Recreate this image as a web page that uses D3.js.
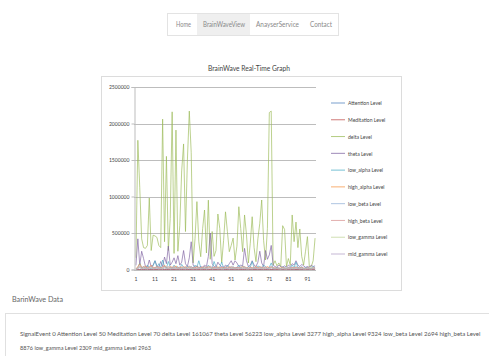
<!DOCTYPE html>
<html>
<head>
<meta charset="utf-8">
<script src="https://cdn.jsdelivr.net/npm/d3@7"></script>
<style>
  html, body { margin: 0; padding: 0; background: #fff; overflow: hidden; }
  svg { display: block; }
</style>
</head>
<body>
<svg id="page" width="489" height="356"></svg>
<script>
// ---- data -------------------------------------------------------------
const navItems = ["Home", "BrainWaveView", "AnayserService", "Contact"];
const seriesNames = ["Attention Level", "Meditation Level", "delta Level", "theta Level",
  "low_alpha Level", "high_alpha Level", "low_beta Level", "high_beta Level",
  "low_gamma Level", "mid_gamma Level"];
const seriesColors = ["#4F81BD", "#C0504D", "#9BBB59", "#8064A2", "#4BACC6",
  "#F79646", "#95B3D7", "#D99694", "#C3D69B", "#B3A2C7"];
const yTicks = [0, 500000, 1000000, 1500000, 2000000, 2500000];
const xTickLabels = [1, 11, 21, 31, 41, 51, 61, 71, 81, 91];

const attention = [50,54,61,48,40,43,51,57,63,66,60,53,47,44,38,41,50,56,61,64,70,66,57,51,48,44,40,47,53,57,
  63,69,74,67,60,54,50,43,38,41,48,56,61,57,51,44,40,37,43,50,57,63,60,54,48,51,56,61,66,70,
  64,57,53,47,43,48,54,60,63,57,50,44,38,35,41,47,53,56,61,66,60,54,48,44,50,57,63,67,61,54,
  48,43,47,53,58];
const meditation = [70,66,61,57,53,48,44,51,57,63,67,70,74,69,61,56,50,47,43,48,54,60,64,69,74,78,70,63,57,50,
  47,43,40,44,51,57,61,66,70,64,57,53,48,54,60,63,69,74,67,61,56,50,47,43,48,53,57,61,66,63,
  57,51,47,43,40,44,50,56,60,66,70,74,67,61,54,50,47,53,57,61,64,60,54,50,47,51,56,60,64,69,
  74,70,63,57,53];
const delta = [161067,1770000,1120000,420000,300000,290000,330000,980000,260000,470000,
  460000,440000,330000,300000,2060000,380000,1550000,260000,700000,2160000,
  220000,1910000,250000,600000,1350000,1720000,520000,1500000,2170000,1600000,
  90000,420000,930000,380000,175000,560000,815000,226000,950000,140000,
  520000,180000,260000,760000,560000,90000,400000,790000,520000,244000,
  330000,430000,130000,320000,860000,560000,244000,747000,480000,89000,
  360000,723000,300000,107000,420000,633000,952000,400000,130000,560000,
  2150000,2170000,60000,120000,50000,90000,40000,600000,550000,40000,
  150000,60000,747000,381000,650000,300000,555000,180000,60000,250000,
  450000,40000,38000,120000,430000];
const theta = [56223,420000,60000,250000,150000,40000,30000,130000,40000,60000,
  120000,50000,30000,110000,40000,170000,80000,320000,60000,100000,
  160000,80000,190000,60000,100000,260000,80000,40000,160000,380000,
  60000,30000,50000,20000,40000,30000,60000,40000,180000,500000,
  80000,40000,30000,100000,60000,40000,30000,60000,40000,80000,
  120000,60000,120000,90000,40000,60000,50000,290000,120000,40000,
  60000,120000,60000,40000,100000,250000,90000,40000,260000,140000,
  200000,330000,60000,40000,30000,60000,40000,30000,50000,30000,
  60000,40000,80000,60000,120000,60000,40000,70000,50000,30000,
  40000,30000,60000,40000,50000];
const lowAlpha = [3277,30000,90000,20000,40000,15000,60000,25000,10000,50000,
  120000,30000,80000,20000,130000,40000,20000,110000,30000,15000,
  60000,25000,40000,10000,70000,30000,20000,50000,15000,40000,
  20000,60000,30000,120000,25000,15000,40000,20000,60000,30000,
  15000,110000,40000,20000,30000,100000,25000,15000,60000,30000,
  20000,40000,15000,30000,60000,20000,50000,25000,15000,40000,
  30000,110000,20000,15000,50000,30000,20000,60000,40000,15000,
  30000,90000,20000,15000,30000,20000,10000,40000,25000,15000,
  30000,20000,60000,25000,100000,30000,20000,40000,15000,25000,
  30000,15000,20000,40000,25000];
const highAlpha = [9324,40000,80000,30000,20000,50000,15000,30000,60000,20000,
  25000,40000,15000,30000,20000,60000,25000,15000,40000,30000,
  20000,50000,15000,25000,30000,20000,40000,15000,30000,20000,
  15000,25000,40000,15000,20000,30000,15000,25000,40000,20000,
  15000,30000,20000,40000,15000,25000,20000,30000,15000,40000,
  20000,25000,15000,30000,20000,15000,40000,20000,25000,15000,
  30000,20000,15000,40000,25000,20000,30000,15000,20000,40000,
  25000,30000,15000,20000,10000,15000,20000,30000,15000,10000,
  20000,15000,25000,20000,30000,15000,20000,25000,15000,10000,
  20000,15000,10000,20000,15000];
const lowBeta = [2694,20000,40000,15000,30000,20000,10000,25000,40000,15000,
  20000,30000,10000,25000,15000,40000,20000,30000,15000,20000,
  30000,15000,25000,20000,10000,30000,15000,20000,40000,25000,
  15000,20000,10000,30000,15000,20000,25000,10000,30000,40000,
  15000,20000,30000,15000,25000,20000,10000,30000,15000,20000,
  40000,15000,25000,20000,30000,15000,20000,40000,15000,20000,
  25000,15000,30000,20000,15000,40000,20000,25000,30000,15000,
  20000,40000,15000,10000,20000,15000,10000,25000,15000,10000,
  20000,15000,25000,15000,40000,20000,15000,25000,10000,15000,
  20000,10000,15000,20000,15000];
const highBeta = [8876,30000,50000,25000,40000,30000,20000,35000,50000,30000,
  25000,40000,30000,20000,35000,45000,30000,40000,25000,30000,
  40000,30000,20000,35000,30000,40000,25000,30000,45000,35000,
  25000,30000,20000,35000,25000,30000,40000,25000,30000,45000,
  30000,25000,35000,20000,30000,25000,20000,35000,30000,25000,
  40000,30000,20000,30000,25000,35000,30000,40000,25000,20000,
  30000,25000,35000,30000,20000,40000,30000,25000,35000,30000,
  25000,40000,30000,20000,25000,20000,15000,30000,20000,15000,
  25000,20000,30000,20000,35000,25000,20000,30000,20000,15000,
  25000,20000,15000,25000,20000];
const lowGamma = [2309,15000,30000,10000,20000,15000,10000,20000,25000,10000,
  15000,20000,10000,15000,10000,25000,15000,20000,10000,15000,
  20000,10000,15000,10000,20000,15000,10000,20000,25000,15000,
  10000,15000,10000,20000,10000,15000,20000,10000,15000,25000,
  10000,15000,20000,10000,15000,10000,10000,20000,15000,10000,
  20000,15000,10000,15000,10000,20000,15000,20000,10000,10000,
  15000,10000,20000,15000,10000,20000,15000,10000,20000,15000,
  10000,25000,15000,10000,15000,10000,8000,15000,10000,8000,
  15000,10000,15000,10000,20000,15000,10000,15000,10000,8000,
  15000,10000,8000,15000,10000];
const midGamma = [2963,12000,25000,8000,15000,10000,8000,15000,20000,8000,
  12000,15000,8000,12000,8000,20000,12000,15000,8000,12000,
  15000,8000,12000,8000,15000,12000,8000,15000,20000,12000,
  8000,12000,8000,15000,8000,12000,15000,8000,12000,20000,
  8000,12000,15000,8000,12000,8000,8000,15000,12000,8000,
  15000,12000,8000,12000,8000,15000,12000,15000,8000,8000,
  12000,8000,15000,12000,8000,15000,12000,8000,15000,12000,
  8000,20000,12000,8000,12000,8000,6000,12000,8000,6000,
  12000,8000,12000,8000,15000,12000,8000,12000,8000,6000,
  12000,8000,6000,12000,8000];
const seriesValues = [attention, meditation, delta, theta, lowAlpha, highAlpha,
  lowBeta, highBeta, lowGamma, midGamma];

const dataLines = [
  "SignalEvent 0 Attention Level 50 Meditation Level 70 delta Level 161067 theta Level 56223 low_alpha Level 3277 high_alpha Level 9324 low_beta Level 2694 high_beta Level",
  "8876 low_gamma Level 2309 mid_gamma Level 2963"
];

// ---- page -------------------------------------------------------------
const svg = d3.select("#page");
const uiFont = "Lato, 'Open Sans', sans-serif";
const chartFont = "Lato, 'Open Sans', sans-serif";

// squeeze a text to a narrower set width (condensed look of the chart labels)
function condense(sel, factor) {
  sel.each(function () {
    const w = this.getComputedTextLength();
    d3.select(this).attr("textLength", w * factor).attr("lengthAdjust", "spacingAndGlyphs");
  });
}
function fitWidth(sel, width) {
  sel.attr("textLength", width).attr("lengthAdjust", "spacingAndGlyphs");
}

// navigation bar
const nav = svg.append("g");
nav.append("rect").attr("x", 167.5).attr("y", 13.5).attr("width", 171).attr("height", 22)
  .attr("fill", "#fff").attr("stroke", "#e3e3e3");
nav.append("rect").attr("x", 197).attr("y", 14).attr("width", 53).attr("height", 21)
  .attr("fill", "#efefef");
const navX = [176, 203, 256, 310];
const navW = [15, 42, 43, 22];
nav.selectAll("text").data(navItems).join("text")
  .attr("x", (d, i) => navX[i]).attr("y", 27)
  .attr("font-family", uiFont).attr("font-weight", 400)
  .attr("font-size", 7.2).attr("fill", "#8a8a8a")
  .attr("textLength", (d, i) => navW[i]).attr("lengthAdjust", "spacingAndGlyphs")
  .text(d => d);

// chart frame and title
svg.append("rect").attr("x", 101.5).attr("y", 76.5).attr("width", 300).attr("height", 214)
  .attr("fill", "#fff").attr("stroke", "#dcdcdc");
svg.append("text").attr("x", 208).attr("y", 71)
  .attr("font-family", chartFont).attr("font-size", 7.2).attr("fill", "#444")
  .text("BrainWave Real-Time Graph").call(fitWidth, 82);

// scales
const idx = d3.range(1, delta.length + 1);
const x = d3.scaleBand().domain(idx).range([135, 316]);
const y = d3.scaleLinear().domain([0, 2500000]).range([269.5, 87]);
const xc = i => x(i) + x.bandwidth() / 2;

// gridlines
const plot = svg.append("g");
plot.selectAll("line.grid").data(yTicks.filter(t => t > 0)).join("line")
  .attr("class", "grid")
  .attr("x1", 134).attr("x2", 316)
  .attr("y1", d => Math.round(y(d)) + 0.5).attr("y2", d => Math.round(y(d)) + 0.5)
  .attr("stroke", "#bdbdbd").attr("stroke-width", 1);

// y axis
const yAxis = d3.axisLeft(y).tickValues(yTicks).tickSize(3).tickFormat(d3.format("d"));
const yg = svg.append("g").attr("transform", "translate(134.5,0)").call(yAxis);
yg.select(".domain").attr("stroke", "#bdbdbd");
yg.selectAll(".tick line").attr("stroke", "#bdbdbd");
yg.selectAll(".tick text").attr("font-family", chartFont).attr("font-size", 6.2)
  .attr("fill", "#444").attr("x", -5).call(condense, 0.82);

// x axis
const xAxis = d3.axisBottom(x).tickValues(xTickLabels).tickSize(0);
const xg = svg.append("g").attr("transform", `translate(0,${Math.round(y(0)) + 0.5})`).call(xAxis);
xg.select(".domain").attr("stroke", "#bdbdbd").attr("d", "M134,0H316");
xg.selectAll(".tick text").attr("font-family", chartFont).attr("font-size", 6.2)
  .attr("fill", "#444").attr("dy", "0.9em").attr("y", 5).call(condense, 0.82);

// series lines
const line = d3.line().x((d, i) => xc(i + 1)).y(d => y(d));
seriesValues.forEach((vals, k) => {
  plot.append("path").datum(vals)
    .attr("d", line)
    .attr("fill", "none")
    .attr("stroke", seriesColors[k])
    .attr("stroke-width", 0.8)
    .attr("stroke-opacity", 0.85)
    .attr("stroke-linejoin", "round");
});

// legend
const legend = svg.append("g");
const legendY = d3.scalePoint().domain(seriesNames).range([103, 254]);
seriesNames.forEach((name, k) => {
  const ly = legendY(name);
  legend.append("line").attr("x1", 331).attr("x2", 345).attr("y1", ly).attr("y2", ly)
    .attr("stroke", seriesColors[k]).attr("stroke-width", 0.9).attr("stroke-opacity", 0.85);
  legend.append("text").attr("x", 348).attr("y", ly).attr("dy", "0.35em")
    .attr("font-family", chartFont).attr("font-size", 6.2).attr("fill", "#444")
    .text(name).call(condense, 0.82);
});

// data panel
svg.append("text").attr("x", 12).attr("y", 302)
  .attr("font-family", uiFont).attr("font-weight", 400)
  .attr("font-size", 6.6).attr("fill", "#666").text("BarinWave Data").call(fitWidth, 51);
svg.append("rect").attr("x", 5.5).attr("y", 313.5).attr("width", 500).attr("height", 60)
  .attr("fill", "#fff").attr("stroke", "#e0e0e0");
// each line is scaled horizontally so that it spans its set width
const dataWidths = [460, 131];
dataLines.forEach((txt, i) => {
  const g = svg.append("g");
  const t = g.append("text")
    .attr("font-family", uiFont).attr("font-weight", 400)
    .attr("font-size", 6.4).attr("fill", "#555")
    .text(txt);
  const w = t.node().getComputedTextLength();
  g.attr("transform", `translate(20,${336 + i * 14}) scale(${dataWidths[i] / w},1)`);
});
</script>
</body>
</html>
